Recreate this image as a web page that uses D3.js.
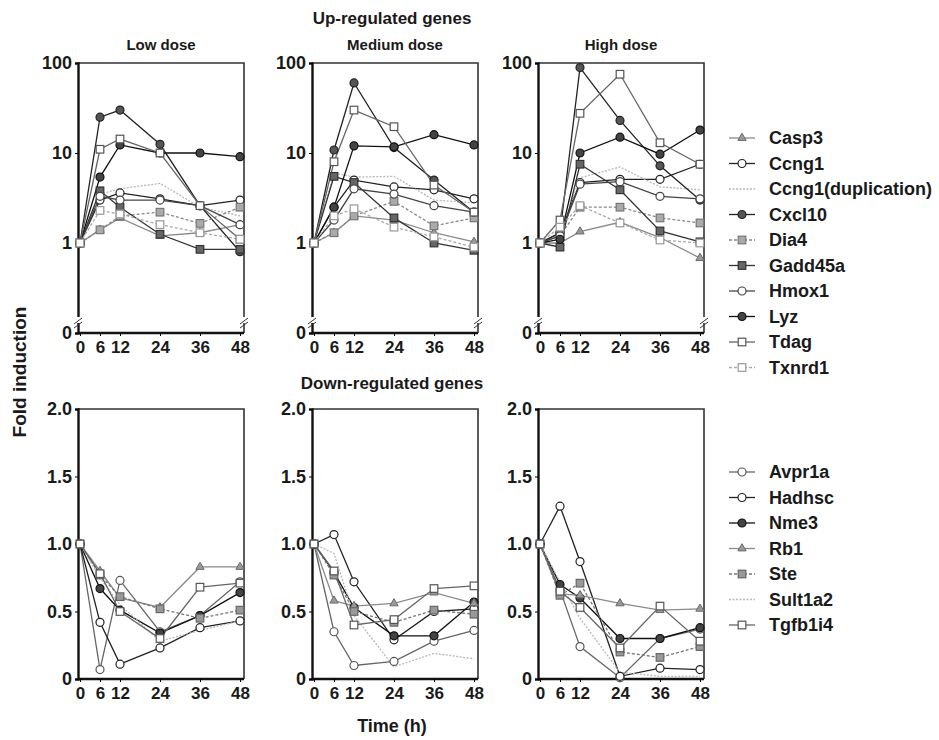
<!DOCTYPE html>
<html>
<head>
<meta charset="utf-8">
<script src="https://cdn.jsdelivr.net/npm/d3@7"></script>
<style>
body { margin: 0; background: #fff; }
text { font-family: "Liberation Sans", Arial, sans-serif; font-weight: bold; fill: #1a1a1a; }
</style>
</head>
<body>
<svg id="chart" width="939" height="740"></svg>
<script>
// time points (h)
var times = [0, 6, 12, 24, 36, 48];
var doses = ["Low dose", "Medium dose", "High dose"];

var upGenes = ["Casp3", "Ccng1", "Ccng1(duplication)", "Cxcl10", "Dia4", "Gadd45a", "Hmox1", "Lyz", "Tdag", "Txnrd1"];
var downGenes = ["Avpr1a", "Hadhsc", "Nme3", "Rb1", "Ste", "Sult1a2", "Tgfb1i4"];

// fold induction, one row per gene (same order as upGenes)
var upLow = [
  [1, 1.4, 1.9, 1.2, 1.3, 1.6],
  [1, 3.0, 3.6, 3.1, 2.6, 3.0],
  [1, 3.5, 4.0, 4.6, 2.5, 2.0],
  [1, 25, 30, 12.5, 2.6, 0.8],
  [1, 1.4, 2.0, 2.2, 1.65, 2.5],
  [1, 3.8, 2.5, 1.25, 0.85, 0.85],
  [1, 3.3, 3.0, 3.0, 2.6, 1.6],
  [1, 5.4, 12.3, 10, 10, 9.1],
  [1, 11, 14.3, 10, 2.6, 1.1],
  [1, 2.3, 2.1, 1.6, 1.3, 1.1]
];
var upMedium = [
  [1, 1.3, 2.0, 1.8, 1.3, 1.03],
  [1, 2.5, 5.0, 4.2, 3.9, 3.1],
  [1, 6.0, 5.4, 5.5, 3.0, 2.8],
  [1, 10.8, 60, 11.5, 5.0, 2.2],
  [1, 1.3, 2.0, 2.9, 1.55, 1.9],
  [1, 5.5, 4.7, 1.9, 1.0, 0.83],
  [1, 1.8, 4.0, 3.5, 2.6, 2.2],
  [1, 2.5, 12, 11.7, 16, 12.3],
  [1, 8.0, 30, 19.6, 4.4, 2.2],
  [1, 2.0, 2.4, 1.5, 1.17, 0.9]
];
var upHigh = [
  [1, 1.0, 1.34, 1.7, 1.15, 0.68],
  [1, 1.3, 4.7, 5.1, 5.1, 7.5],
  [1, 1.2, 5.3, 7.0, 4.2, 3.9],
  [1, 1.3, 89, 23, 7.2, 3.0],
  [1, 1.2, 2.5, 2.5, 1.9, 1.67],
  [1, 0.9, 7.5, 3.9, 1.36, 1.03],
  [1, 1.2, 4.5, 4.8, 3.3, 3.1],
  [1, 1.1, 10, 15, 9.7, 18],
  [1, 1.8, 27.6, 75, 13, 7.5],
  [1, 1.5, 2.6, 1.67, 1.08, 1.0]
];

// same order as downGenes
var downLow = [
  [1, 0.07, 0.73, 0.35, 0.47, 0.72],
  [1, 0.42, 0.11, 0.23, 0.38, 0.43],
  [1, 0.67, 0.51, 0.34, 0.47, 0.64],
  [1, 0.80, 0.60, 0.53, 0.83, 0.83],
  [1, 0.77, 0.61, 0.52, 0.45, 0.51],
  [1, 0.75, 0.55, 0.28, 0.36, 0.43],
  [1, 0.78, 0.50, 0.30, 0.68, 0.71]
];
var downMedium = [
  [1, 0.35, 0.10, 0.13, 0.28, 0.36],
  [1, 1.07, 0.72, 0.29, 0.50, 0.52],
  [1, 0.79, 0.53, 0.32, 0.32, 0.57],
  [1, 0.58, 0.54, 0.56, 0.64, 0.56],
  [1, 0.77, 0.50, 0.42, 0.51, 0.48],
  [1, 0.93, 0.47, 0.09, 0.19, 0.15],
  [1, 0.80, 0.40, 0.44, 0.67, 0.69]
];
var downHigh = [
  [1, 0.66, 0.24, 0.01, 0.30, 0.37],
  [1, 1.28, 0.87, 0.02, 0.08, 0.07],
  [1, 0.70, 0.60, 0.30, 0.30, 0.38],
  [1, 0.63, 0.62, 0.56, 0.51, 0.52],
  [1, 0.62, 0.71, 0.20, 0.16, 0.24],
  [1, 0.72, 0.45, 0.05, 0.02, 0.02],
  [1, 0.65, 0.53, 0.23, 0.54, 0.28]
];

var upTicks = [0.1, 1, 10, 100];
var downTicks = [0, 0.5, 1, 1.5, 2];

// marker / line styles
var upStyle = [
  {m: "tri", fill: "#9a9a9a", stroke: "#6a6a6a", line: "#8a8a8a", dash: null},
  {m: "circle", fill: "#fff", stroke: "#222", line: "#222", dash: null},
  {m: "none", fill: "none", stroke: "#bbb", line: "#b8b8b8", dash: "2,1.5"},
  {m: "circle", fill: "#555", stroke: "#222", line: "#222", dash: null},
  {m: "square", fill: "#aaa", stroke: "#777", line: "#888", dash: "3,2"},
  {m: "square", fill: "#666", stroke: "#333", line: "#333", dash: null},
  {m: "circle", fill: "#fff", stroke: "#444", line: "#444", dash: null},
  {m: "circle", fill: "#444", stroke: "#111", line: "#111", dash: null},
  {m: "square", fill: "#fff", stroke: "#555", line: "#666", dash: null},
  {m: "square", fill: "#fff", stroke: "#999", line: "#aaa", dash: "3,2"}
];
var downStyle = [
  {m: "circle", fill: "#fff", stroke: "#555", line: "#666", dash: null},
  {m: "circle", fill: "#fff", stroke: "#222", line: "#222", dash: null},
  {m: "circle", fill: "#444", stroke: "#111", line: "#111", dash: null},
  {m: "tri", fill: "#9a9a9a", stroke: "#6a6a6a", line: "#8a8a8a", dash: null},
  {m: "square", fill: "#999", stroke: "#666", line: "#777", dash: "3,2"},
  {m: "none", fill: "none", stroke: "#bbb", line: "#b8b8b8", dash: "2,1.5"},
  {m: "square", fill: "#fff", stroke: "#555", line: "#666", dash: null}
];

var panelX = [78, 312, 538];
var panelW = 166;
var upTop = 63, upBottom = 333;
var downTop = 409, downBottom = 679;

var svg = d3.select("#chart");

function drawMarker(g, st, cx, cy) {
  if (st.m === "circle") {
    g.append("circle").attr("cx", cx).attr("cy", cy).attr("r", 4)
      .attr("fill", st.fill).attr("stroke", st.stroke).attr("stroke-width", 1.2);
  } else if (st.m === "square") {
    g.append("rect").attr("x", cx - 3.8).attr("y", cy - 3.8).attr("width", 7.6).attr("height", 7.6)
      .attr("fill", st.fill).attr("stroke", st.stroke).attr("stroke-width", 1.2);
  } else if (st.m === "tri") {
    g.append("path").attr("d", d3.symbol(d3.symbolTriangle, 30)())
      .attr("transform", "translate(" + cx + "," + cy + ")")
      .attr("fill", st.fill).attr("stroke", st.stroke).attr("stroke-width", 1);
  }
}

function drawPanel(px, y, rows, styles, top, bottom, isLog) {
  var x = d3.scaleLinear().domain([0, 48]).range([px + 2, px + 162]);
  var g = svg.append("g");

  // frame
  g.append("path")
    .attr("d", "M" + px + "," + top + "H" + (px + panelW) + "V" + bottom)
    .attr("fill", "none").attr("stroke", "#333").attr("stroke-width", 1.6);

  var yAxis = d3.axisLeft(y).tickSize(3).tickPadding(3);
  if (isLog) {
    yAxis.tickValues(upTicks).tickFormat(function(d) { return d < 1 ? "0" : d; });
  } else {
    yAxis.tickValues(downTicks).tickFormat(function(d) { return d === 0 ? "0" : d3.format(".1f")(d); });
  }
  var ya = g.append("g").attr("transform", "translate(" + px + ",0)").call(yAxis);
  ya.select(".domain").attr("stroke", "#111").attr("stroke-width", 2.4);
  ya.selectAll("text").style("font-size", "18px").attr("fill", "#111");

  var xAxis = d3.axisBottom(x).tickValues(times).tickSize(3).tickPadding(5).tickSizeOuter(0);
  var xa = g.append("g").attr("transform", "translate(0," + bottom + ")").call(xAxis);
  xa.select(".domain").attr("d", "M" + px + ",0H" + (px + panelW)).attr("stroke", "#111").attr("stroke-width", 2.4);
  xa.selectAll("text").style("font-size", "17px").attr("fill", "#111");

  if (isLog) {
    // axis break between 1 and 0
    [px, px + panelW].forEach(function(bx) {
      g.append("rect").attr("x", bx - 3).attr("y", bottom - 16).attr("width", 6).attr("height", 6).attr("fill", "#fff");
      g.append("line").attr("x1", bx - 4).attr("y1", bottom - 9).attr("x2", bx + 4).attr("y2", bottom - 15)
        .attr("stroke", "#333").attr("stroke-width", 1);
      g.append("line").attr("x1", bx - 4).attr("y1", bottom - 5).attr("x2", bx + 4).attr("y2", bottom - 11)
        .attr("stroke", "#333").attr("stroke-width", 1);
    });
  }

  var line = d3.line().x(function(d, i) { return x(times[i]); }).y(function(d) { return y(d); });

  rows.forEach(function(r, k) {
    var st = styles[k];
    g.append("path").datum(r).attr("d", line)
      .attr("fill", "none").attr("stroke", st.line).attr("stroke-width", 1.3)
      .attr("stroke-dasharray", st.dash);
  });
  rows.forEach(function(r, k) {
    var st = styles[k];
    r.forEach(function(v, i) { drawMarker(g, st, x(times[i]), y(v)); });
  });
}

var yUp = d3.scaleLog().domain([0.1, 100]).range([upBottom, upTop]);
var yDown = d3.scaleLinear().domain([0, 2]).range([downBottom, downTop]);

var upSets = [upLow, upMedium, upHigh];
var downSets = [downLow, downMedium, downHigh];

panelX.forEach(function(px, i) {
  drawPanel(px, yUp, upSets[i], upStyle, upTop, upBottom, true);
  drawPanel(px, yDown, downSets[i], downStyle, downTop, downBottom, false);
  svg.append("text").attr("x", px + panelW / 2).attr("y", 50).attr("text-anchor", "middle")
    .style("font-size", "15px").attr("fill", i === 2 ? "#777" : "#1a1a1a").text(doses[i]);
});

// titles
svg.append("text").attr("x", 392).attr("y", 24).attr("text-anchor", "middle").style("font-size", "17px").text("Up-regulated genes");
svg.append("text").attr("x", 392).attr("y", 389).attr("text-anchor", "middle").style("font-size", "17px").text("Down-regulated genes");
svg.append("text").attr("x", 392).attr("y", 732).attr("text-anchor", "middle").style("font-size", "18px").text("Time (h)");
svg.append("text").attr("transform", "translate(26,372) rotate(-90)").attr("text-anchor", "middle").style("font-size", "19px").text("Fold induction");

// legends
function legend(names, styles, y0) {
  var lg = svg.append("g");
  names.forEach(function(n, k) {
    var st = styles[k];
    var yy = y0 + k * 25.5;
    lg.append("line").attr("x1", 729).attr("x2", 755).attr("y1", yy).attr("y2", yy)
      .attr("stroke", st.line).attr("stroke-width", 1.3).attr("stroke-dasharray", st.dash);
    drawMarker(lg, st, 742, yy);
    lg.append("text").attr("x", 769).attr("y", yy + 6).style("font-size", "18px").text(n);
  });
}
legend(upGenes, upStyle, 138);
legend(downGenes, downStyle, 472);
</script>
</body>
</html>
